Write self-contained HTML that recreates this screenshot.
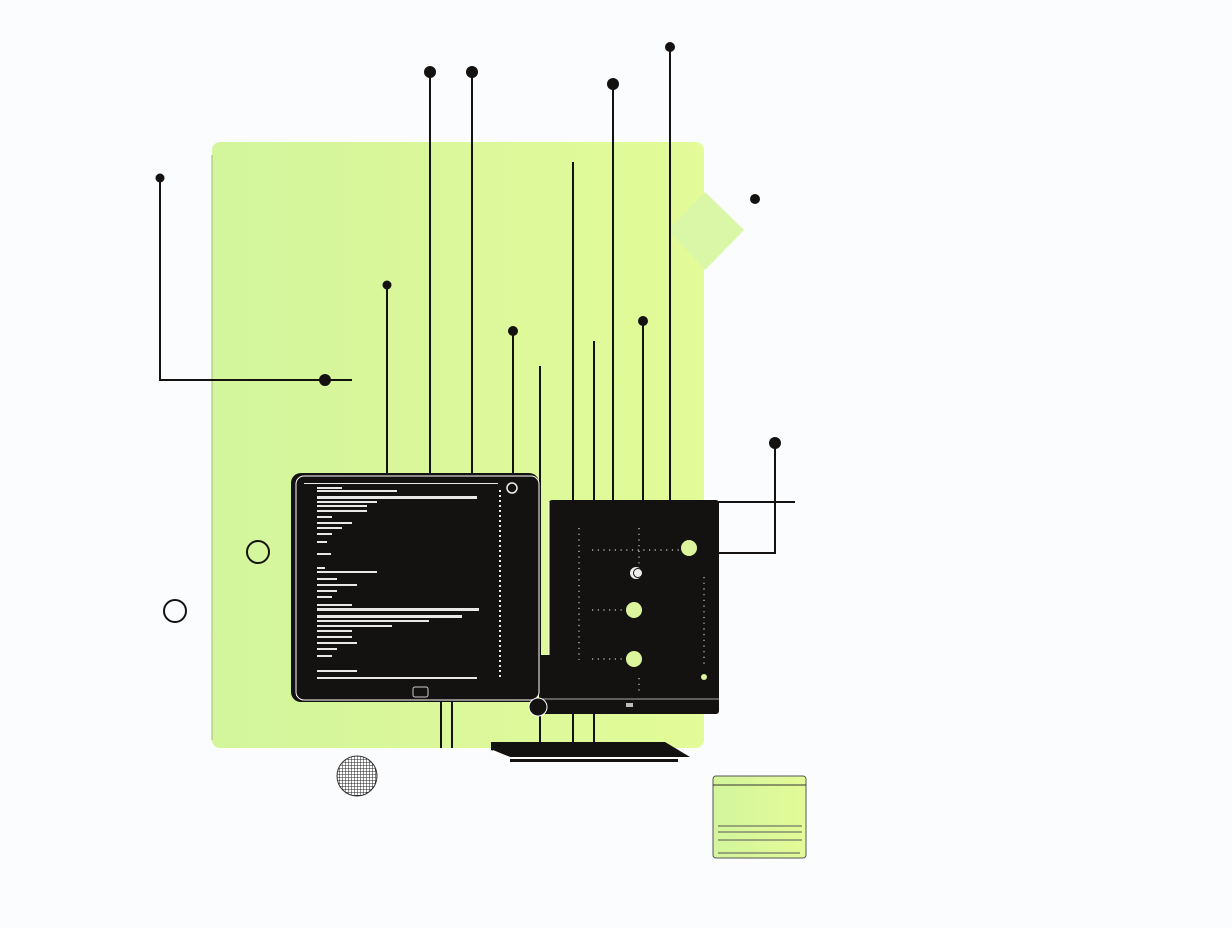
<!DOCTYPE html>
<html><head><meta charset="utf-8"><style>html,body{margin:0;padding:0;background:#fbfcfd;}svg{display:block}</style></head>
<body>
<svg width="1232" height="928" viewBox="0 0 1232 928" xmlns="http://www.w3.org/2000/svg">
<defs>
<linearGradient id="g" x1="0" y1="0" x2="1" y2="0"><stop offset="0" stop-color="#d3f59c"/><stop offset="1" stop-color="#e3fb98"/></linearGradient>
<pattern id="h" width="3" height="3" patternUnits="userSpaceOnUse"><rect width="3" height="3" fill="#fff"/><path d="M0 0H3M0 0V3" stroke="#222" stroke-width="1"/></pattern>
</defs>
<rect width="1232" height="928" fill="#fbfcfd"/>
<rect x="212" y="142" width="492" height="606" rx="8" fill="url(#g)"/>
<line x1="212" y1="155" x2="212" y2="740" stroke="#9fb87a" stroke-width="1"/>
<polygon points="705,192 744,230 705,270 668,230" fill="#d9f7a6"/>
<g stroke="#141210" stroke-width="2" fill="none">
<polyline points="160,178 160,380 352,380"/>
<line x1="387" y1="285" x2="387" y2="473"/>
<line x1="430" y1="72" x2="430" y2="473"/>
<line x1="472" y1="72" x2="472" y2="473"/>
<line x1="513" y1="331" x2="513" y2="473"/>
<line x1="540" y1="366" x2="540" y2="742"/>
<line x1="573" y1="162" x2="573" y2="742"/>
<line x1="594" y1="341" x2="594" y2="742"/>
<line x1="613" y1="84" x2="613" y2="500"/>
<line x1="643" y1="321" x2="643" y2="500"/>
<line x1="670" y1="47" x2="670" y2="500"/>
<polyline points="775,443 775,553 718,553"/>
<line x1="718" y1="502" x2="795" y2="502"/>
<line x1="441" y1="700" x2="441" y2="748"/>
<line x1="452" y1="700" x2="452" y2="748"/>
<circle cx="258" cy="552" r="11"/>
<circle cx="175" cy="611" r="11"/>
</g>
<g fill="#141210">
<circle cx="160" cy="178" r="4.5"/><circle cx="325" cy="380" r="6"/><circle cx="387" cy="285" r="4.5"/>
<circle cx="430" cy="72" r="6"/><circle cx="472" cy="72" r="6"/><circle cx="513" cy="331" r="5"/>
<circle cx="613" cy="84" r="6"/><circle cx="643" cy="321" r="5"/><circle cx="670" cy="47" r="5"/>
<circle cx="755" cy="199" r="5"/><circle cx="775" cy="443" r="6"/>
</g>
<!-- tablet -->
<rect x="291" y="473" width="248" height="229" rx="10" fill="#141210"/>
<rect x="296" y="476" width="243" height="224" rx="8" fill="#141210" stroke="#fff" stroke-width="1"/>
<g fill="#e8e8e8">
<rect x="304" y="483" width="194" height="1"/>
<rect x="317" y="487" width="25" height="2"/><rect x="317" y="490" width="80" height="2"/>
<rect x="317" y="496" width="160" height="3"/><rect x="317" y="501" width="60" height="2"/>
<rect x="317" y="505" width="50" height="2"/><rect x="317" y="510" width="50" height="2"/>
<rect x="317" y="516" width="15" height="2"/><rect x="317" y="522" width="35" height="2"/>
<rect x="317" y="527" width="25" height="2"/><rect x="317" y="533" width="15" height="2"/>
<rect x="317" y="541" width="10" height="2"/><rect x="317" y="553" width="14" height="2"/>
<rect x="317" y="567" width="8" height="2"/><rect x="317" y="571" width="60" height="2"/>
<rect x="317" y="578" width="20" height="2"/><rect x="317" y="584" width="40" height="2"/>
<rect x="317" y="590" width="20" height="2"/><rect x="317" y="596" width="15" height="2"/>
<rect x="317" y="604" width="35" height="2"/>
<rect x="317" y="608" width="162" height="3"/><rect x="317" y="615" width="145" height="3"/>
<rect x="317" y="620" width="112" height="2"/><rect x="317" y="625" width="75" height="2"/>
<rect x="317" y="630" width="35" height="2"/><rect x="317" y="636" width="35" height="2"/>
<rect x="317" y="642" width="40" height="2"/><rect x="317" y="648" width="20" height="2"/>
<rect x="317" y="655" width="15" height="2"/><rect x="317" y="670" width="40" height="2"/>
<rect x="317" y="677" width="160" height="2"/>
</g>
<g stroke="#e8e8e8" stroke-width="2" stroke-dasharray="2 3"><line x1="500" y1="490" x2="500" y2="680"/></g>
<circle cx="512" cy="488" r="5" fill="none" stroke="#eee" stroke-width="1.5"/>
<rect x="413" y="687" width="15" height="10" rx="2" fill="none" stroke="#ccc" stroke-width="1"/>
<!-- monitor -->
<rect x="549" y="500" width="170" height="214" rx="3" fill="#141210"/>
<rect x="541" y="655" width="30" height="59" fill="#141210"/>
<line x1="549" y1="502" x2="549" y2="655" stroke="#fff" stroke-width="1"/>
<line x1="541" y1="699" x2="719" y2="699" stroke="#ddd" stroke-width="0.7"/>
<circle cx="538" cy="707" r="9" fill="#141210" stroke="#fff" stroke-width="1"/>
<g stroke="#ccc" stroke-width="1.2" stroke-dasharray="1.2 4.5">
<line x1="579" y1="528" x2="579" y2="660"/><line x1="639" y1="528" x2="639" y2="570"/>
<line x1="592" y1="550" x2="680" y2="550"/><line x1="592" y1="610" x2="626" y2="610"/>
<line x1="592" y1="659" x2="626" y2="659"/><line x1="639" y1="678" x2="639" y2="695"/>
<line x1="704" y1="577" x2="704" y2="668"/>
</g>
<g fill="#dcf59c"><circle cx="689" cy="548" r="8"/><circle cx="634" cy="610" r="8"/><circle cx="634" cy="659" r="8"/><circle cx="704" cy="677" r="3"/></g>
<circle cx="636" cy="573" r="6" fill="#eee"/><circle cx="638" cy="573" r="5" fill="#141210"/><circle cx="638" cy="573" r="4" fill="#eee"/>
<rect x="626" y="703" width="7" height="4" fill="#bbb"/>
<!-- keyboard -->
<polygon points="491,742 665,742 690,757 510,757 491,750" fill="#141210"/>
<polygon points="493,750 510,757 690,757 688,760 510,760 493,754" fill="#fff"/>
<rect x="510" y="759" width="168" height="3" fill="#141210"/>
<!-- globe -->
<circle cx="357" cy="776" r="20" fill="url(#h)" stroke="#333" stroke-width="1"/>
<!-- card -->
<rect x="713" y="776" width="93" height="82" rx="3" fill="url(#g)" stroke="#555" stroke-width="1"/>
<line x1="713" y1="785" x2="806" y2="785" stroke="#333"/>
<g stroke="#555" stroke-width="1"><line x1="718" y1="826" x2="802" y2="826"/><line x1="718" y1="832" x2="802" y2="832"/><line x1="718" y1="840" x2="802" y2="840"/><line x1="718" y1="853" x2="800" y2="853"/></g>
</svg>
</body></html>
